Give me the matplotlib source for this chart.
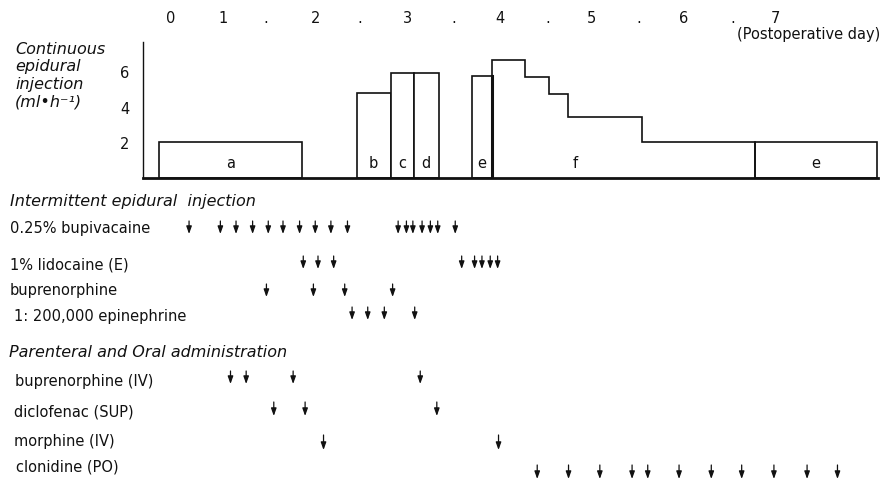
import matplotlib
matplotlib.use('Agg')
import matplotlib.pyplot as plt
from matplotlib.transforms import blended_transform_factory

###############################################################################
# Data (time in postoperative days, rates in ml/h)
###############################################################################
day_ticks = [0.43, 1, 1.46, 2, 2.48, 3, 3.5, 4, 4.52, 5, 5.51, 6, 6.53, 7]
day_labels = ['0', '1', '.', '2', '.', '3', '.', '4', '.', '5', '.', '6', '.', '7']

block_names = ['a', 'b', 'c', 'd', 'e', 'e']
block_start = [0.30, 2.45, 2.82, 3.07, 3.70, 6.77]
block_end = [1.86, 2.82, 3.07, 3.34, 3.92, 8.10]
block_rate = [2.0, 4.8, 5.9, 5.9, 5.75, 2.0]

f_edges = [3.92, 4.28, 4.54, 4.74, 5.55, 6.77]
f_rates = [6.65, 5.7, 4.7, 3.45, 2.0]

# intermittent epidural injection
epi_labels = ['0.25% bupivacaine', '1% lidocaine (E)', 'buprenorphine',
              '1: 200,000 epinephrine']
bupivacaine = [0.63, 0.97, 1.14, 1.32, 1.49, 1.65, 1.83, 2.00, 2.17, 2.35,
               2.90, 2.99, 3.06, 3.16, 3.25, 3.33, 3.52]
lidocaine = [1.87, 2.03, 2.20, 3.59, 3.73, 3.81, 3.90, 3.98]
buprenorphine = [1.47, 1.98, 2.32, 2.84]
epinephrine = [2.40, 2.57, 2.75, 3.08]

# parenteral and oral administration
par_labels = ['buprenorphine (IV)', 'diclofenac (SUP)', 'morphine (IV)',
              'clonidine (PO)']
buprenorphine_iv = [1.08, 1.25, 1.76, 3.14]
diclofenac = [1.55, 1.89, 3.32]
morphine = [2.09, 3.99]
clonidine = [4.41, 4.75, 5.09, 5.44, 5.61, 5.95, 6.30, 6.63, 6.98, 7.34, 7.67]

###############################################################################
# Layout
###############################################################################
W, H = 881, 481
INK = '#111111'
plt.rcParams['font.family'] = 'DejaVu Sans'

fig = plt.figure(figsize=(W / 100, H / 100), dpi=100)
XLIM = (0.13, 8.11)

###############################################################################
# Continuous epidural injection
###############################################################################
ax = fig.add_axes([143 / W, 1 - 179 / H, (878 - 143) / W, (179 - 43) / H])
ax.set_xlim(*XLIM)
ax.set_ylim(0, 7.64)
for s in ['top', 'right']:
    ax.spines[s].set_visible(False)
ax.spines['bottom'].set_linewidth(2.0)
ax.spines['left'].set_linewidth(1.0)
ax.spines['left'].set_color(INK)
ax.spines['bottom'].set_color(INK)

ax.bar(block_start, block_rate,
       width=[e - s for s, e in zip(block_start, block_end)],
       align='edge', facecolor='white', edgecolor=INK, linewidth=1.2)
ax.stairs(f_rates, f_edges, baseline=0, color=INK, linewidth=1.2)
# thick shared edge between e and f
ax.plot([f_edges[0], f_edges[0]], [0, block_rate[4]], color=INK, lw=2.2)

for name, s, e in zip(block_names, block_start, block_end):
    ax.text((s + e) / 2, 0.85, name, ha='center', va='center',
            fontsize=10.5, color=INK)
ax.text(4.82, 0.85, 'f', ha='center', va='center', fontsize=10.5, color=INK)

ax.xaxis.tick_top()
ax.set_xticks(day_ticks, day_labels)
ax.tick_params(axis='x', length=0, pad=12, labelsize=10.5, labelcolor=INK)
ax.set_yticks([2, 4, 6])
ax.tick_params(axis='y', length=0, pad=10, labelsize=10.5, labelcolor=INK)

fig.text(880 / W, 1 - 34 / H, '(Postoperative day)', ha='right',
         va='center', fontsize=10.5, color=INK)
fig.text(15 / W, 1 - 42 / H,
         'Continuous\nepidural\ninjection\n(ml\u2022h\u207b\u00b9)',
         ha='left', va='top', fontsize=11.5, style='italic', color=INK,
         linespacing=1.2)

###############################################################################
# Arrow rows
###############################################################################
ax2 = fig.add_axes([143 / W, 0, (878 - 143) / W, 300 / H])
ax2.set_xlim(*XLIM)
ax2.set_ylim(H, H - 300)
ax2.axis('off')
lab = blended_transform_factory(fig.transFigure, ax2.transData)


def arrows(xs, top, bottom):
    for x in xs:
        ax2.annotate('', xy=(x, bottom), xytext=(x, top),
                     arrowprops=dict(arrowstyle='-|>,head_length=0.45,head_width=0.16',
                                     lw=0.9, color=INK, shrinkA=0, shrinkB=0),
                     annotation_clip=False)


ax2.text(10 / W, 202, 'Intermittent epidural  injection', transform=lab,
         ha='left', va='center', fontsize=11.5, style='italic', color=INK)
ax2.text(9 / W, 353, 'Parenteral and Oral administration', transform=lab,
         ha='left', va='center', fontsize=11.5, style='italic', color=INK)

epi_rows = [bupivacaine, lidocaine, buprenorphine, epinephrine]
epi_y = [229, 265, 291, 317]
epi_x = [10, 10, 10, 14]
epi_arrow = [(222, 235), (257, 270), (285, 298), (308, 321)]
for label, xs, y, x0, (t, b) in zip(epi_labels, epi_rows, epi_y, epi_x, epi_arrow):
    ax2.text(x0 / W, y, label, transform=lab, ha='left', va='center',
             fontsize=10.5, color=INK)
    arrows(xs, t, b)

par_rows = [buprenorphine_iv, diclofenac, morphine, clonidine]
par_y = [382, 412, 442, 467]
par_x = [15, 14, 14, 16]
par_arrow = [(372, 385), (403, 417), (436, 451), (466, 480)]
for label, xs, y, x0, (t, b) in zip(par_labels, par_rows, par_y, par_x, par_arrow):
    ax2.text(x0 / W, y, label, transform=lab, ha='left', va='center',
             fontsize=10.5, color=INK)
    arrows(xs, t, b)

fig.savefig('out.png', dpi=100, facecolor='white')
